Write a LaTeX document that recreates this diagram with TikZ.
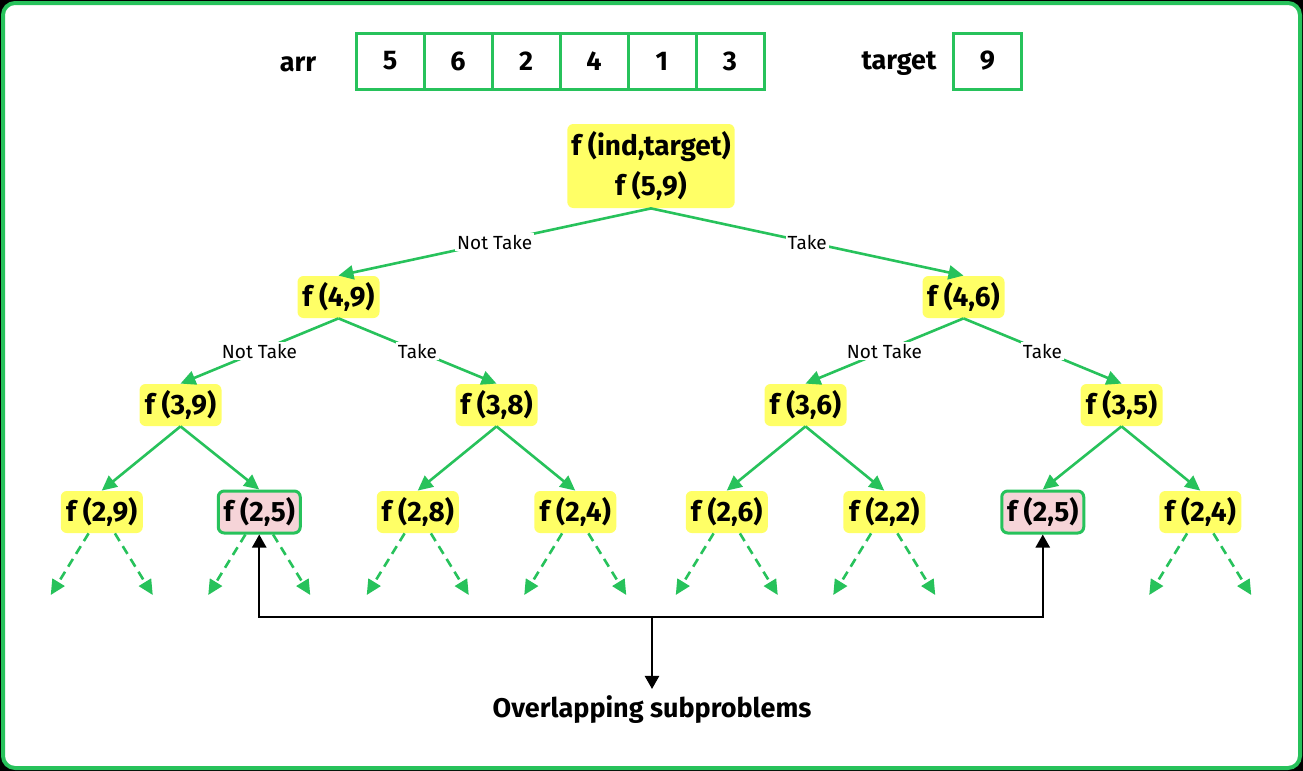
\documentclass[tikz,border=0pt]{standalone}
\usepackage{fontspec}
\setmainfont{Fira Sans}
\usetikzlibrary{arrows.meta}
\definecolor{gfg}{RGB}{39,194,91}
\definecolor{fyel}{RGB}{255,255,102}
\definecolor{fpink}{RGB}{246,212,216}
\tikzset{
  fnode/.style={rectangle, rounded corners=3pt, fill=fyel, minimum width=41pt,
    minimum height=21pt, inner sep=2pt, font=\bfseries\fontsize{14}{16}\selectfont},
  dup/.style={fnode, fill=fpink, draw=gfg, line width=1.5pt},
  cell/.style={draw=gfg, line width=1.5pt, minimum width=34pt, minimum height=28pt,
    font=\bfseries\fontsize{13.5}{15}\selectfont},
  lbl/.style={font=\bfseries\fontsize{13.5}{15}\selectfont},
  elbl/.style={draw=none, fill=white, text=black, inner sep=1pt,
    font=\fontsize{9.5}{11}\selectfont},
  conn/.style={gfg, line width=1.3pt, -{Triangle[length=7.5pt,width=7pt]}},
  stub/.style={dash pattern=on 4.5pt off 3pt},
  bline/.style={black, line width=1.2pt},
}
\begin{document}
\begin{tikzpicture}[x=0.5pt, y=0.5pt,
  parent anchor=south, child anchor=north,
  edge from parent/.style={draw, conn},
  level 1/.style={level distance=65.5pt, sibling distance=312.5pt},
  level 2/.style={level distance=54pt, sibling distance=158pt},
  level 3/.style={level distance=53.5pt, sibling distance=78.75pt},
  level 4/.style={level distance=41.5pt, sibling distance=51pt,
    edge from parent/.style={draw, conn, stub},
    edge from parent path={(\tikzparentnode) -- (\tikzchildnode)}}]
\useasboundingbox (0,0) rectangle (1303,-771);
\fill[black] (0,0) rectangle (1303,-771);
\draw[gfg, line width=2pt, fill=white, rounded corners=6pt] (3,-3) rectangle (1300,-768);

% the array and the target
\node[lbl] (arrlbl) at (298,-64) {arr};
\foreach \v [count=\i] in {5,6,2,4,1,3}
  \node[cell] (a\i) at ({322+68*\i},-61) {\v};
\node[lbl] (tgtlbl) at (899,-64) {target};
\node[cell] (tval) at (987.5,-61) {9};

% recursion tree
\node[fnode, minimum width=81pt, minimum height=42pt, align=center] (root) at (651,-166)
  {f (ind,target)\\[4pt] f (5,9)}
  child { node[fnode] (n49) {f (4,9)}
    child { node[fnode] (n39) {f (3,9)}
      child { node[fnode] (n29) {f (2,9)} child foreach \s in {1,2} {coordinate} }
      child { node[dup] (n25a) {f (2,5)} child foreach \s in {1,2} {coordinate} }
      edge from parent node[elbl] {Not Take}
    }
    child { node[fnode] (n38) {f (3,8)}
      child { node[fnode] (n28) {f (2,8)} child foreach \s in {1,2} {coordinate} }
      child { node[fnode] (n24a) {f (2,4)} child foreach \s in {1,2} {coordinate} }
      edge from parent node[elbl] {Take}
    }
    edge from parent node[elbl] {Not Take}
  }
  child { node[fnode] (n46) {f (4,6)}
    child { node[fnode] (n36) {f (3,6)}
      child { node[fnode] (n26) {f (2,6)} child foreach \s in {1,2} {coordinate} }
      child { node[fnode] (n22) {f (2,2)} child foreach \s in {1,2} {coordinate} }
      edge from parent node[elbl] {Not Take}
    }
    child { node[fnode] (n35) {f (3,5)}
      child { node[dup] (n25b) {f (2,5)} }
      child { node[fnode] (n24b) {f (2,4)} child foreach \s in {1,2} {coordinate} }
      edge from parent node[elbl] {Take}
    }
    edge from parent node[elbl] {Take}
  }
;

% overlapping subproblems
\coordinate (mid) at (652,-617);
\node[lbl] (ovl) at (652,-710) {Overlapping subproblems};
\draw[bline, {Triangle[length=6.5pt,width=7pt]}-{Triangle[length=6.5pt,width=7pt]}]
  (n25a.south) |- (mid) -| (n25b.south);
\draw[bline, -{Triangle[length=6.5pt,width=7pt]}] (mid) -- (ovl);
\end{tikzpicture}
\end{document}
